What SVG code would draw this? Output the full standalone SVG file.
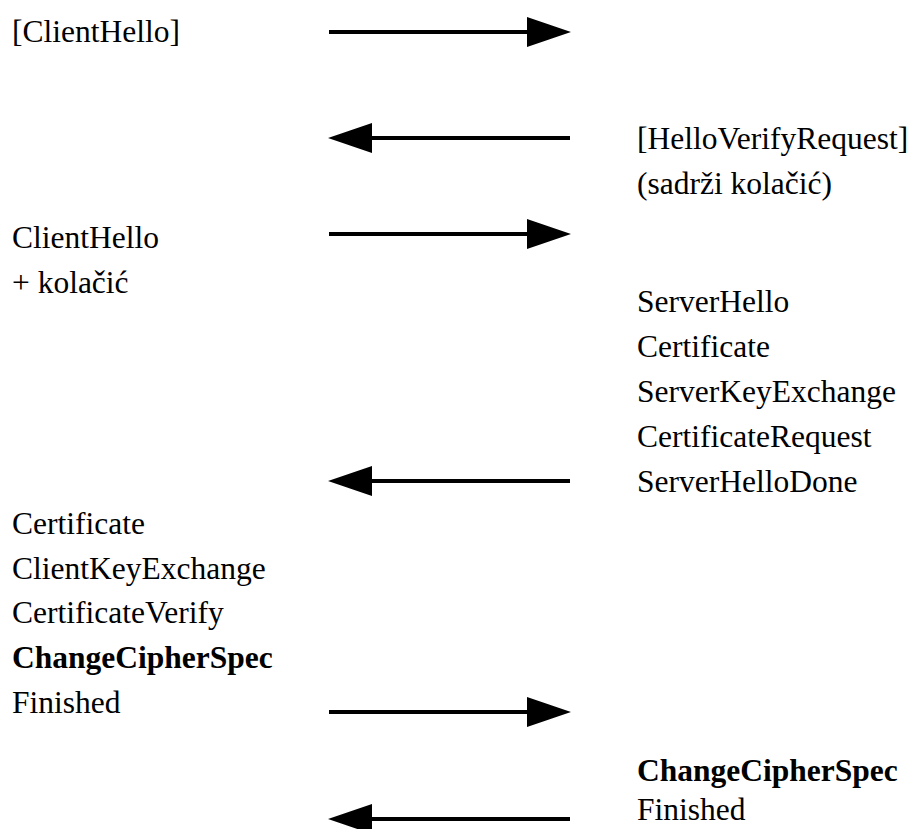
<svg xmlns="http://www.w3.org/2000/svg" width="918" height="829" viewBox="0 0 918 829">
<style>
text{font-family:"Liberation Serif","Times New Roman",serif;font-size:31.5px;fill:#000}
.b{font-weight:bold}
.ln{stroke:#000;stroke-width:4;fill:none}
.hd{fill:#000}
</style>
<rect width="918" height="829" fill="#fff"/>
<g id="connectors">
<g id="a1"><line class="ln" x1="329" y1="32" x2="530" y2="32"/><polygon class="hd" points="527,17 571,32 527,47"/></g>
<g id="a2"><line class="ln" x1="369" y1="138" x2="570" y2="138"/><polygon class="hd" points="372,123 328,138 372,153"/></g>
<g id="a3"><line class="ln" x1="329" y1="234" x2="530" y2="234"/><polygon class="hd" points="527,219 571,234 527,249"/></g>
<g id="a4"><line class="ln" x1="369" y1="481" x2="570" y2="481"/><polygon class="hd" points="372,466 328,481 372,496"/></g>
<g id="a5"><line class="ln" x1="329" y1="712" x2="530" y2="712"/><polygon class="hd" points="527,697 571,712 527,727"/></g>
<g id="a6"><line class="ln" x1="369" y1="819" x2="570" y2="819"/><polygon class="hd" points="372,804 328,819 372,834"/></g>
</g>
<g id="client1"><text x="12" y="42">[ClientHello]</text></g>
<g id="server1"><text x="637" y="149">[HelloVerifyRequest]</text><text x="637" y="194">(sadrži kolačić)</text></g>
<g id="client2"><text x="12" y="248">ClientHello</text><text x="12" y="293">+ kolačić</text></g>
<g id="server2">
<text x="637" y="312">ServerHello</text>
<text x="637" y="357">Certificate</text>
<text x="637" y="402">ServerKeyExchange</text>
<text x="637" y="447">CertificateRequest</text>
<text x="637" y="492">ServerHelloDone</text>
</g>
<g id="client3">
<text x="12" y="534">Certificate</text>
<text x="12" y="579">ClientKeyExchange</text>
<text x="12" y="623">CertificateVerify</text>
<text class="b" x="12" y="668">ChangeCipherSpec</text>
<text x="12" y="713">Finished</text>
</g>
<g id="server3">
<text class="b" x="637" y="781">ChangeCipherSpec</text>
<text x="637" y="820">Finished</text>
</g>
</svg>
